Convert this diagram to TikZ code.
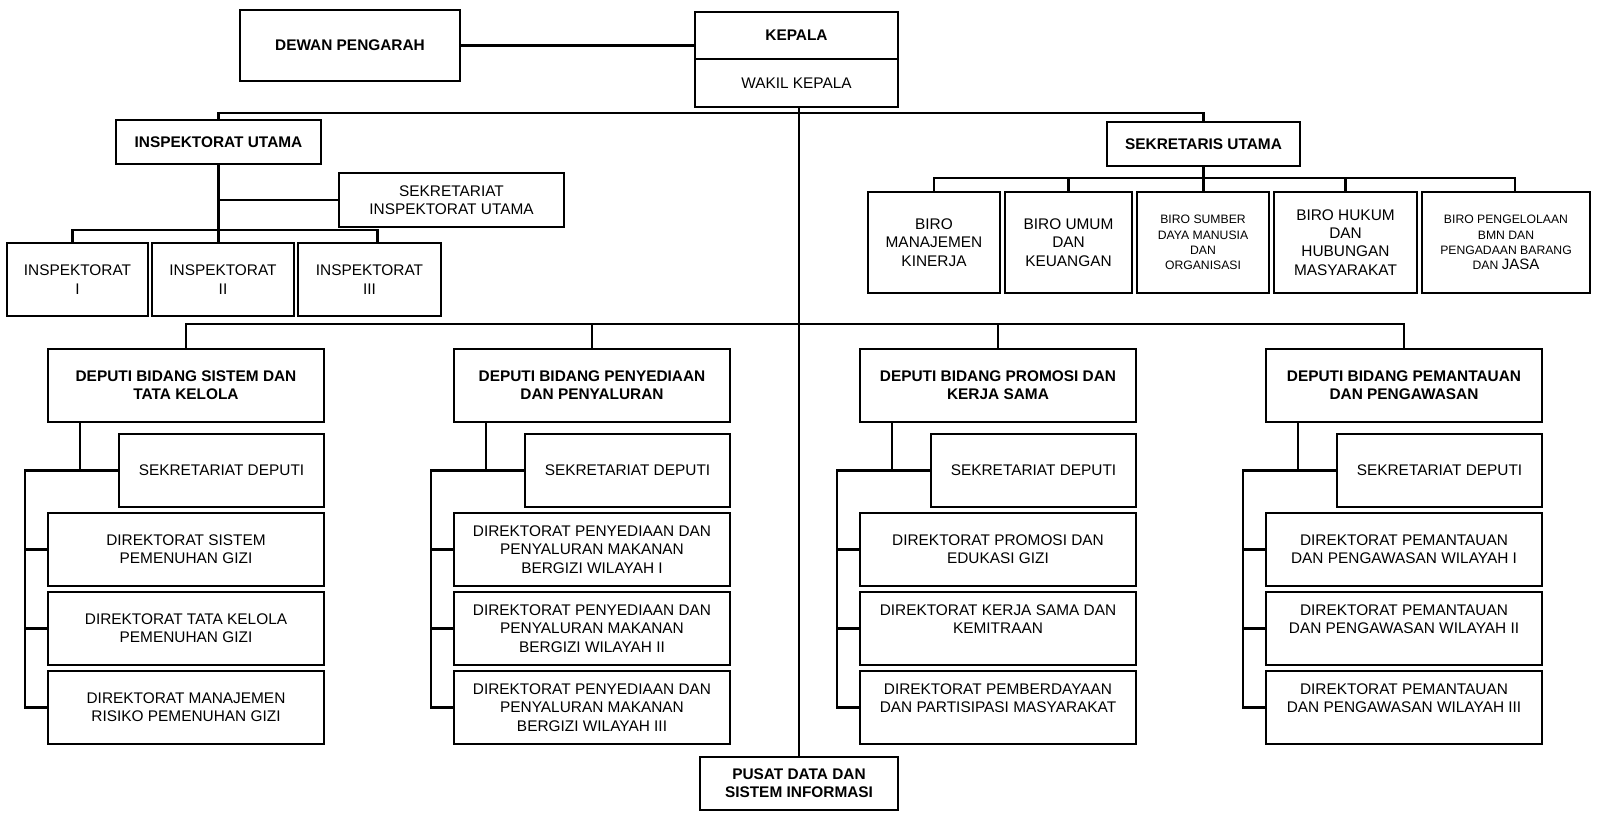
\documentclass[tikz,border=0pt]{standalone}
\usepackage{fontspec}
\setmainfont{Liberation Sans}
\usetikzlibrary{positioning}

\begin{document}
\begin{tikzpicture}[x=1pt,y=-1pt,line width=2.4pt,node distance=5pt,
    unit node/.style={rectangle,draw,line width=2pt,outer sep=0pt,inner sep=0pt,align=center,font=\fontsize{15.4pt}{18.3pt}\selectfont},
    head node/.style={unit node,font=\fontsize{15.4pt}{18.3pt}\selectfont\bfseries},
    small node/.style={unit node,font=\fontsize{12.2pt}{15.2pt}\selectfont},
    sized/.style 2 args={minimum width=#1pt,minimum height=#2pt}]
    \path[use as bounding box,fill=white] (0,0) rectangle (1600,813);

    % pimpinan
    \node[head node,sized={220}{71}] (dewan) at (350,45.5) {DEWAN PENGARAH};
    \node[head node,sized={203}{47}] (kepala) at (796.5,35.5) {KEPALA};
    \node[unit node,sized={203}{48},below=0pt of kepala] (wakil) {WAKIL KEPALA};
    \node[head node,sized={198}{53}] (pusat) at (799,783.5) {PUSAT DATA DAN\\SISTEM INFORMASI};

    % inspektorat
    \node[head node,sized={205}{44}] (iu) at (218.5,142) {INSPEKTORAT UTAMA};
    \node[unit node,sized={225}{54}] (sekiu) at (451.5,200) {SEKRETARIAT\\INSPEKTORAT UTAMA};
    \node[unit node,sized={141}{73}] (insp1) at (77.5,279.5) {INSPEKTORAT\\I};
    \node[unit node,sized={142}{73},right=4pt of insp1] (insp2) {INSPEKTORAT\\II};
    \node[unit node,sized={143}{73},right=4pt of insp2] (insp3) {INSPEKTORAT\\III};

    % sekretariat utama
    \node[head node,sized={193}{44}] (su) at (1203.5,144) {SEKRETARIS UTAMA};
    \node[unit node,sized={132}{101}] (biro1) at (934,242.5) {BIRO\\MANAJEMEN\\KINERJA};
    \node[unit node,sized={127}{101},right=of biro1] (biro2) {BIRO UMUM\\DAN\\KEUANGAN};
    \node[small node,sized={132}{101},right=of biro2] (biro3) {BIRO SUMBER\\DAYA MANUSIA\\DAN\\ORGANISASI};
    \node[unit node,sized={143}{101},right=of biro3] (biro4) {BIRO HUKUM\\DAN\\HUBUNGAN\\MASYARAKAT};
    \node[small node,sized={168}{101},right=of biro4] (biro5) {BIRO PENGELOLAAN\\BMN DAN\\PENGADAAN BARANG\\DAN {\fontsize{15pt}{15.2pt}\selectfont JASA}};

    % deputi
    \node[head node,sized={276}{73}] (dep1) at (186,385.5) {DEPUTI BIDANG SISTEM DAN\\TATA KELOLA};
    \node[head node,sized={276}{73},right=130pt of dep1] (dep2) {DEPUTI BIDANG PENYEDIAAN\\DAN PENYALURAN};
    \node[head node,sized={276}{73},right=130pt of dep2] (dep3) {DEPUTI BIDANG PROMOSI DAN\\KERJA SAMA};
    \node[head node,sized={276}{73},right=130pt of dep3] (dep4) {DEPUTI BIDANG PEMANTAUAN\\DAN PENGAWASAN};

    \foreach \c in {1,...,4}
        \node[unit node,sized={205}{73},below left=12pt and 0pt of dep\c.south east] (sek\c) {SEKRETARIAT DEPUTI};

    \node[unit node,sized={276}{73},below left=6pt and 0pt of sek1.south east] (dir1a) {DIREKTORAT SISTEM\\PEMENUHAN GIZI};
    \node[unit node,sized={276}{73},below=6pt of dir1a] (dir1b) {DIREKTORAT TATA KELOLA\\PEMENUHAN GIZI};
    \node[unit node,sized={276}{73},below=6pt of dir1b] (dir1c) {DIREKTORAT MANAJEMEN\\RISIKO PEMENUHAN GIZI};

    \node[unit node,sized={276}{73},below left=6pt and 0pt of sek2.south east] (dir2a) {DIREKTORAT PENYEDIAAN DAN\\PENYALURAN MAKANAN\\BERGIZI WILAYAH I};
    \node[unit node,sized={276}{73},below=6pt of dir2a] (dir2b) {DIREKTORAT PENYEDIAAN DAN\\PENYALURAN MAKANAN\\BERGIZI WILAYAH II};
    \node[unit node,sized={276}{73},below=6pt of dir2b] (dir2c) {DIREKTORAT PENYEDIAAN DAN\\PENYALURAN MAKANAN\\BERGIZI WILAYAH III};

    \node[unit node,sized={276}{73},below left=6pt and 0pt of sek3.south east] (dir3a) {DIREKTORAT PROMOSI DAN\\EDUKASI GIZI};
    \node[unit node,sized={276}{73},below=6pt of dir3a] (dir3b) {DIREKTORAT KERJA SAMA DAN\\KEMITRAAN\\\mbox{}};
    \node[unit node,sized={276}{73},below=6pt of dir3b] (dir3c) {DIREKTORAT PEMBERDAYAAN\\DAN PARTISIPASI MASYARAKAT\\\mbox{}};

    \node[unit node,sized={276}{73},below left=6pt and 0pt of sek4.south east] (dir4a) {DIREKTORAT PEMANTAUAN\\DAN PENGAWASAN WILAYAH I};
    \node[unit node,sized={276}{73},below=6pt of dir4a] (dir4b) {DIREKTORAT PEMANTAUAN\\DAN PENGAWASAN WILAYAH II\\\mbox{}};
    \node[unit node,sized={276}{73},below=6pt of dir4b] (dir4c) {DIREKTORAT PEMANTAUAN\\DAN PENGAWASAN WILAYAH III\\\mbox{}};

    % garis
    \coordinate (top) at (800,113);
    \coordinate (mid) at (800,324);
    \coordinate (ibus) at (223,230);
    \coordinate (bbus) at (1203,178);

    \draw (dewan.east) -- (dewan.east -| kepala.west);
    \draw (wakil.south -| pusat.north) -- (pusat.north);
    \draw (iu.north) |- (top) -| (su.north);
    \draw (dep1.north) |- (mid) -| (dep4.north);
    \draw (dep2.north) -- (dep2.north |- mid);
    \draw (dep3.north) -- (dep3.north |- mid);

    \draw (iu.south) -- (iu.south |- insp2.north);
    \draw (iu.south |- sekiu.west) -- (sekiu.west);
    \draw ([xshift=-5pt]insp1.north) |- (ibus) -| ([xshift=8pt]insp3.north);

    \draw (su.south) -- (su.south |- biro3.north);
    \draw (biro1.north) |- (bbus) -| ([xshift=9pt]biro5.north);
    \draw (biro2.north) -- (biro2.north |- bbus);
    \draw (biro4.north) -- (biro4.north |- bbus);

    \foreach \c in {1,...,4}{
        \coordinate (t\c) at ([xshift=32pt]dep\c.south west);
        \coordinate (b\c) at ([xshift=-23pt]dir\c a.west);
        \draw (t\c) |- (sek\c.west);
        \draw (t\c |- sek\c.west) -| (b\c) |- (dir\c c.west);
        \draw (b\c) -- (dir\c a.west);
        \draw (b\c |- dir\c b.west) -- (dir\c b.west);
    }
\end{tikzpicture}
\end{document}
